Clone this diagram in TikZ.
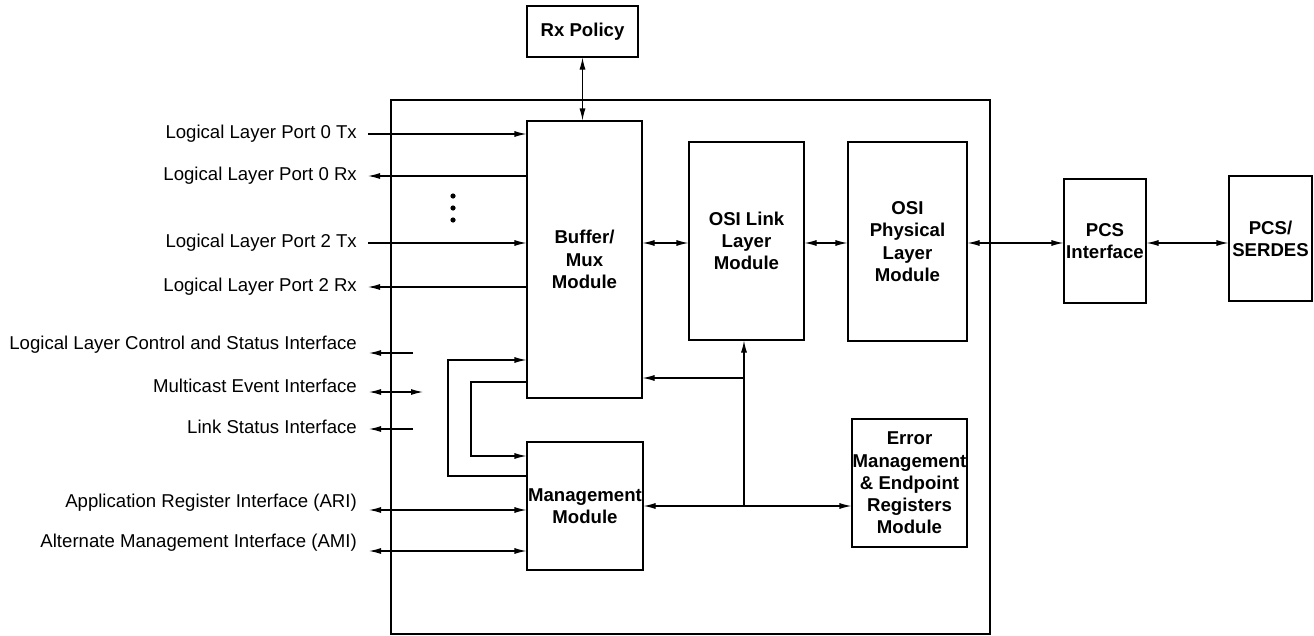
\documentclass[tikz,border=0pt]{standalone}
\usepackage{tikz}
\usepackage{xcolor}
\usepackage{fontspec}
\setmainfont{Liberation Sans}
\usetikzlibrary{arrows.meta}

\tikzset{
  blk/.style={draw, line width=1.1pt, inner sep=0pt, align=center, font=\fontsize{18.6}{22.3}\selectfont\bfseries},
  sig/.style={anchor=east, inner sep=0pt},
  wire/.style={line width=1.1pt, >={Latex[length=12pt,width=6pt]}}
}

\begin{document}
\begin{tikzpicture}[x=1pt,y=1pt,yscale=-1,xscale=1, font=\fontsize{18.6}{22.3}\selectfont]
\useasboundingbox (0,0) rectangle (1314,635);

%Shape: Rectangle (core)
\draw [line width=1.1pt] (391,100) rectangle (990,634);

%Shape: Blocks
\node [blk, minimum width=111pt, minimum height=51pt] (rx) at (582.5,31.5) {Rx Policy};
\node [blk, minimum width=115pt, minimum height=277pt] (buf) at (584.5,259.5) {Buffer/\\Mux\\Module};
\node [blk, minimum width=115pt, minimum height=198pt] (osil) at (746.5,241) {OSI Link\\Layer\\Module};
\node [blk, minimum width=119pt, minimum height=199pt] (osip) at (907.5,241.5) {OSI\\Physical\\Layer\\Module};
\node [blk, minimum width=82pt, minimum height=124pt] (pcsi) at (1105,241) {PCS\\Interface};
\node [blk, minimum width=83pt, minimum height=125pt] (serdes) at (1270.5,238.5) {PCS/\\SERDES};
\node [blk, minimum width=116pt, minimum height=128pt] (mgmt) at (585,506) {Management\\Module};
\node [blk, minimum width=115pt, minimum height=128pt] (err) at (909.5,483) {Error\\Management\\\& Endpoint\\Registers\\Module};

% Text Node
\node [sig] (tp0tx) at (357,134) {Logical Layer Port 0 Tx};
\node [sig] (tp0rx) at (357,176) {Logical Layer Port 0 Rx};
\node [sig] (tp2tx) at (357,243) {Logical Layer Port 2 Tx};
\node [sig] (tp2rx) at (357,287) {Logical Layer Port 2 Rx};
\node [sig] (tllcs) at (357,345) {Logical Layer Control and Status Interface};
\node [sig] (tmcast) at (357,386) {Multicast Event Interface};
\node [sig] (tlsi) at (357,427) {Link Status Interface};
\node [sig] (tari) at (357,503) {Application Register Interface (ARI)};
\node [sig] (tami) at (357,543) {Alternate Management Interface (AMI)};

% free ends
\coordinate (p0tx) at (368,134);
\coordinate (p0rx) at (368,176);
\coordinate (p2tx) at (368,243);
\coordinate (p2rx) at (368,287);
\coordinate (llcsA) at (413,353);
\coordinate (llcsB) at (369,353);
\coordinate (mcastA) at (423,392);
\coordinate (mcastB) at (369,392);
\coordinate (lsiA) at (413,429);
\coordinate (lsiB) at (369,429);
\coordinate (ari) at (369,510);
\coordinate (ami) at (369,551);
\coordinate (loopA) at (448,476);
\coordinate (loopB) at (448,360);
\coordinate (loopC) at (471,382);
\coordinate (loopD) at (471,456);
\coordinate (tap) at (744,378);
\coordinate (bus) at (744,506);
\coordinate (lane) at (0,243);

%Straight Lines
\draw [wire,<->] (rx.south) -- (rx.south |- buf.north);
\draw [wire,->] (p0tx) -- (p0tx -| buf.west);
\draw [wire,->] (p0rx -| buf.west) -- (p0rx);
\draw [wire,->] (p2tx) -- (p2tx -| buf.west);
\draw [wire,->] (p2rx -| buf.west) -- (p2rx);
\draw [wire,->] (llcsA) -- (llcsB);
\draw [wire,<->] (mcastB) -- (mcastA);
\draw [wire,->] (lsiA) -- (lsiB);
\draw [wire,<->] (ari) -- (ari -| mgmt.west);
\draw [wire,<->] (ami) -- (ami -| mgmt.west);
\draw [wire,->] (loopA -| mgmt.west) -- (loopA) -- (loopB) -- (loopB -| buf.west);
\draw [wire,->] (loopC -| buf.west) -- (loopC) -- (loopD) -- (loopD -| mgmt.west);
\draw [wire,<->] (buf.east |- lane) -- (osil.west |- lane);
\draw [wire,<->] (osil.east |- lane) -- (osip.west |- lane);
\draw [wire,<->] (osip.east |- lane) -- (pcsi.west |- lane);
\draw [wire,<->] (pcsi.east |- lane) -- (serdes.west |- lane);
\draw [wire,->] (bus) -- (bus |- osil.south);
\draw [wire,->] (tap) -- (tap -| buf.east);
\draw [wire,<->] (mgmt.east |- bus) -- (err.west |- bus);

%Shape: Dots
\foreach \dy in {196,208,220}
  \fill (453,\dy) circle (2.6);

\end{tikzpicture}
\end{document}
